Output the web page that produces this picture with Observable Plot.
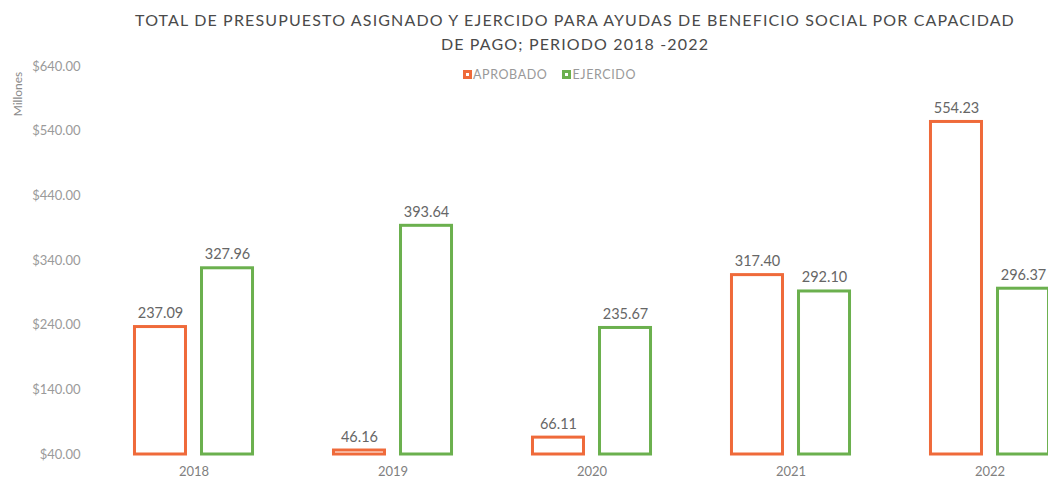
<!DOCTYPE html>
<html>
<head>
<meta charset="utf-8">
<script src="https://cdn.jsdelivr.net/npm/d3@7"></script>
<script src="https://cdn.jsdelivr.net/npm/@observablehq/plot@0.6"></script>
<style>
  html, body { margin: 0; padding: 0; background: #fff; overflow: hidden; width: 1048px; height: 483px; }
  #wrap { position: relative; width: 1048px; height: 483px; overflow: hidden; font-family: Lato, "Open Sans", sans-serif; }
  #title { position: absolute; left: 100px; width: 950px; top: 8px; text-align: center; color: #4a4a4a; font-size: 16px; line-height: 24px; letter-spacing: 1.15px; }
  #legend { position: absolute; left: 463px; top: 67px; font-size: 12.5px; letter-spacing: 0.6px; color: #999; display: flex; align-items: center; }
  #legend .sw { display: inline-block; width: 3px; height: 3px; border: 3px solid; background: #fff; margin-right: 1px; }
  #legend .item { display: flex; align-items: center; margin-right: 15px; }
  #ylab { position: absolute; left: 17px; top: 94px; font-size: 12px; color: #8a8a8a; transform: translate(-50%, -50%) rotate(-90deg); white-space: nowrap; }
  #chart { position: absolute; left: 0; top: 52px; width: 1090px; }
  #chart svg { max-width: none !important; }
</style>
</head>
<body>
<div id="wrap">
  <div id="title">TOTAL DE PRESUPUESTO ASIGNADO Y EJERCIDO PARA AYUDAS DE BENEFICIO SOCIAL POR CAPACIDAD<br>DE PAGO; PERIODO 2018 -2022</div>
  <div id="legend"></div>
  <div id="ylab">Millones</div>
  <div id="chart"></div>
</div>
<script>
const years = ["2018", "2019", "2020", "2021", "2022"];
const series = ["APROBADO", "EJERCIDO"];
const aprobado = [237.09, 46.16, 66.11, 317.40, 554.23];
const ejercido = [327.96, 393.64, 235.67, 292.10, 296.37];
const yTicks = [40, 140, 240, 340, 440, 540, 640];
const colors = ["#EF6A3A", "#6BB04E"];

const data = years.flatMap((yr, i) => [
  {year: yr, serie: series[0], value: aprobado[i]},
  {year: yr, serie: series[1], value: ejercido[i]}
]);
const yMin = d3.min(yTicks), yMax = d3.max(yTicks);

const chart = Plot.plot({
  width: 1090,
  height: 431,
  marginTop: 14,
  marginBottom: 29,
  marginLeft: 94,
  marginRight: 1,
  style: {fontFamily: "Lato, 'Open Sans', sans-serif", background: "transparent", maxWidth: "none"},
  fx: {domain: years, padding: 0, axis: "bottom", tickSize: 0, tickPadding: 12, label: null, fontSize: 13},
  x: {domain: series, paddingInner: 0.239, paddingOuter: 0.604, round: false, axis: null},
  y: {domain: [yMin, yMax], ticks: yTicks, tickFormat: d => "$" + d.toFixed(2), tickSize: 0, tickPadding: 14, label: null},
  color: {domain: series, range: colors},
  marks: [
    Plot.barY(data, {fx: "year", x: "serie", y1: yMin, y2: "value", fill: "white", stroke: "serie", strokeWidth: 3}),
    Plot.text(data, {fx: "year", x: "serie", y: "value", text: d => d.value.toFixed(2), dy: -9, lineAnchor: "bottom", fill: "#666", fontSize: 14.5})
  ]
});
document.getElementById("chart").appendChild(chart);

chart.querySelectorAll("g[aria-label='y-axis tick label']").forEach(el => { el.setAttribute("fill", "#9a9a9a"); el.setAttribute("font-size", "13"); });
chart.querySelectorAll("g[aria-label='fx-axis tick label']").forEach(el => { el.setAttribute("fill", "#808080"); el.setAttribute("font-size", "13"); });

const legend = document.getElementById("legend");
series.forEach((s, i) => {
  const item = document.createElement("div");
  item.className = "item";
  item.innerHTML = `<span class="sw" style="border-color:${colors[i]}"></span><span>${s}</span>`;
  legend.appendChild(item);
});
</script>
</body>
</html>
